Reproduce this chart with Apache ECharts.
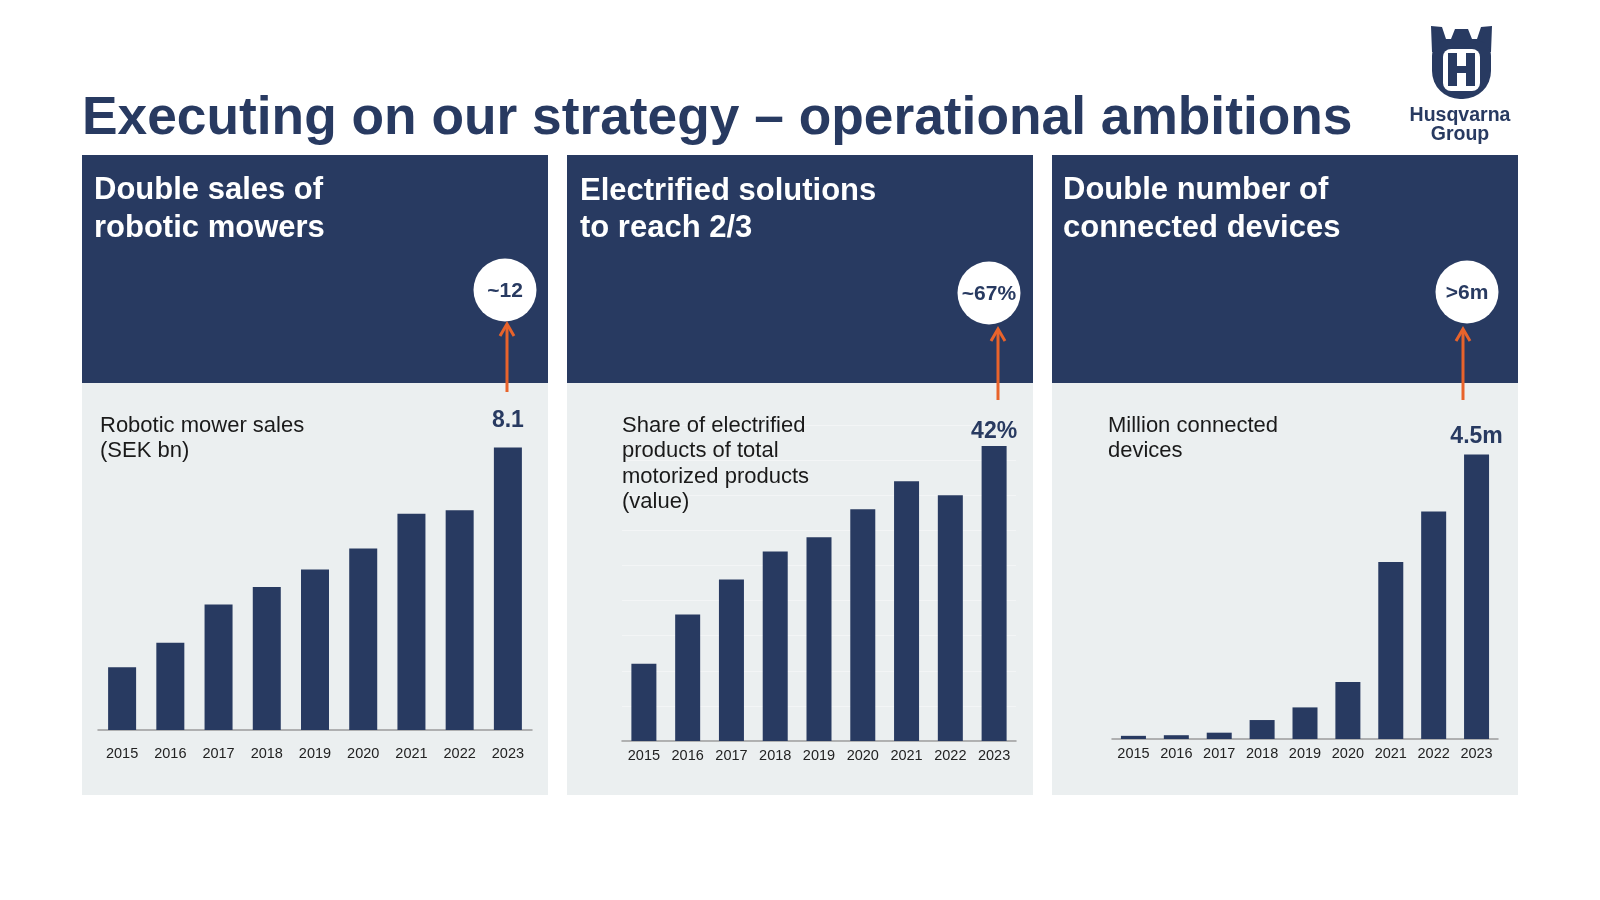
<!DOCTYPE html>
<html>
<head>
<meta charset="utf-8">
<title>Executing on our strategy – operational ambitions</title>
<script src="https://cdn.jsdelivr.net/npm/echarts@6/dist/echarts.min.js"></script>
<style>
    html, body {margin: 0; padding: 0; background: #ffffff;}
    #main {width: 1600px; height: 900px;}
</style>
</head>
<body>
<div id="main"></div>
<script>
// data
const years = ['2015', '2016', '2017', '2018', '2019', '2020', '2021', '2022', '2023'];
const mowerSales = [1.8, 2.5, 3.6, 4.1, 4.6, 5.2, 6.2, 6.3, 8.1];
const electrifiedShare = [11, 18, 23, 27, 29, 33, 37, 35, 42];
const connectedDevices = [0.05, 0.06, 0.1, 0.3, 0.5, 0.9, 2.8, 3.6, 4.5];
const lastLabels = ['8.1', '42%', '4.5m'];
const targetLabels = ['~12', '~67%', '>6m'];
const headerTitles = ['Double sales of\nrobotic mowers', 'Electrified solutions\nto reach 2/3', 'Double number of\nconnected devices'];
const subTitles = ['Robotic mower sales\n(SEK bn)', 'Share of electrified\nproducts of total\nmotorized products\n(value)', 'Million connected\ndevices'];

const NAVY = '#283a61';
const PANEL_BG = '#ebeff0';
const ORANGE = '#e8632b';
const FONT = 'Liberation Sans, Arial, sans-serif';

// layout of the three panels (positions only)
const panels = [
    {x: 82, head: {x: 94, y: 171, lh: 38}, sub: {x: 100}, circle: [505, 290], arrow: {x: 507, y1: 392, y2: 324},
        grid: {left: 98, top: 416, width: 434, height: 314}, max: 9, barWidth: 28, labelDist: 15, margin: 16},
    {x: 567, head: {x: 580, y: 173, lh: 37}, sub: {x: 622}, circle: [989, 293], arrow: {x: 998, y1: 400, y2: 329},
        grid: {left: 622, top: 425, width: 394, height: 316}, max: 45, barWidth: 25, labelDist: 3, margin: 7},
    {x: 1052, head: {x: 1063, y: 171, lh: 38}, sub: {x: 1108}, circle: [1467, 292], arrow: {x: 1463, y1: 400, y2: 329},
        grid: {left: 1112, top: 423, width: 386, height: 316}, max: 5, barWidth: 25, labelDist: 6, margin: 7}
];
const seriesValues = [mowerSales, electrifiedShare, connectedDevices];

let chart = echarts.init(document.getElementById('main'));

let graphic = [];

// title
graphic.push({
    type: 'text', z: 100,
    style: {x: 82, y: 119, text: 'Executing on our strategy – operational ambitions', fill: NAVY,
        font: 'bold 53.3px ' + FONT, textVerticalAlign: 'middle'}
});

panels.forEach(function (p, i) {
    // panel background + dark header
    graphic.push({type: 'rect', z: 0, shape: {x: p.x, y: 155, width: 466, height: 640}, style: {fill: PANEL_BG}});
    graphic.push({type: 'rect', z: 1, shape: {x: p.x, y: 155, width: 466, height: 228}, style: {fill: NAVY}});
    graphic.push({
        type: 'text', z: 100,
        style: {x: p.head.x, y: p.head.y, text: headerTitles[i], fill: '#ffffff', font: 'bold 31px ' + FONT,
            lineHeight: p.head.lh, textVerticalAlign: 'top'}
    });
    graphic.push({
        type: 'text', z: 100,
        style: {x: p.sub.x, y: 413, text: subTitles[i], fill: '#1a1a1a', font: '22px ' + FONT,
            lineHeight: 25.5, textVerticalAlign: 'top'}
    });
    // target bubble
    graphic.push({type: 'circle', z: 50, shape: {cx: p.circle[0], cy: p.circle[1], r: 31.5}, style: {fill: '#ffffff'}});
    graphic.push({
        type: 'text', z: 100,
        style: {x: p.circle[0], y: p.circle[1] + 1, text: targetLabels[i], fill: NAVY, font: 'bold 21px ' + FONT,
            textAlign: 'center', textVerticalAlign: 'middle'}
    });
    // orange arrow
    graphic.push({
        type: 'line', z: 60,
        shape: {x1: p.arrow.x, y1: p.arrow.y1, x2: p.arrow.x, y2: p.arrow.y2 + 1},
        style: {stroke: ORANGE, lineWidth: 3}
    });
    graphic.push({
        type: 'polyline', z: 60,
        shape: {points: [[p.arrow.x - 7, p.arrow.y2 + 12], [p.arrow.x, p.arrow.y2], [p.arrow.x + 7, p.arrow.y2 + 12]]},
        style: {stroke: ORANGE, lineWidth: 3, fill: null}
    });
});

// Husqvarna logo (crown + shield + H)
graphic.push({
    type: 'polygon', z: 100,
    shape: {points: [[1431, 26], [1442, 27], [1446, 39], [1451, 39], [1455, 29], [1468, 29], [1472, 39], [1477, 39], [1481, 27], [1492, 26], [1491, 52], [1432, 52]]},
    style: {fill: NAVY}
});
graphic.push({type: 'rect', z: 100, shape: {x: 1432, y: 40, width: 59, height: 59, r: [16, 16, 28, 28]}, style: {fill: NAVY}});
graphic.push({type: 'rect', z: 101, shape: {x: 1443, y: 49, width: 37, height: 42, r: 8}, style: {fill: '#ffffff'}});
graphic.push({type: 'rect', z: 102, shape: {x: 1448, y: 53, width: 9, height: 33}, style: {fill: NAVY}});
graphic.push({type: 'rect', z: 102, shape: {x: 1466, y: 53, width: 9, height: 33}, style: {fill: NAVY}});
graphic.push({type: 'rect', z: 102, shape: {x: 1448, y: 66, width: 27, height: 7}, style: {fill: NAVY}});
graphic.push({
    type: 'text', z: 100,
    style: {x: 1460, y: 116, text: 'Husqvarna', fill: NAVY, font: 'bold 19.5px ' + FONT,
        textAlign: 'center', textVerticalAlign: 'middle'}
});
graphic.push({
    type: 'text', z: 100,
    style: {x: 1460, y: 135, text: 'Group', fill: NAVY, font: 'bold 19.5px ' + FONT,
        textAlign: 'center', textVerticalAlign: 'middle'}
});

let grids = [], xAxes = [], yAxes = [], series = [];
panels.forEach(function (p, i) {
    grids.push(p.grid);
    xAxes.push({
        type: 'category', gridIndex: i, data: years,
        axisLine: {lineStyle: {color: '#9c9c9c', width: 1.5}},
        axisTick: {show: false},
        axisLabel: {color: '#222222', fontSize: 14.5, fontFamily: FONT, margin: p.margin}
    });
    yAxes.push({
        type: 'value', gridIndex: i, min: 0, max: p.max, interval: i === 1 ? 5 : p.max,
        axisLine: {show: false}, axisTick: {show: false}, axisLabel: {show: false},
        splitLine: {show: i === 1, lineStyle: {color: '#f3f5f6', width: 1}}
    });
    let values = seriesValues[i];
    series.push({
        type: 'bar', xAxisIndex: i, yAxisIndex: i, barWidth: p.barWidth,
        itemStyle: {color: NAVY},
        label: {show: false},
        data: values.map(function (v, k) {
            if (k !== values.length - 1) return v;
            return {
                value: v,
                label: {
                    show: true, position: 'top', distance: p.labelDist, formatter: lastLabels[i],
                    color: NAVY, fontSize: 23, fontWeight: 'bold', fontFamily: FONT
                }
            };
        })
    });
});

chart.setOption({
    backgroundColor: '#ffffff',
    animation: false,
    graphic: graphic,
    grid: grids,
    xAxis: xAxes,
    yAxis: yAxes,
    series: series
});
</script>
</body>
</html>
